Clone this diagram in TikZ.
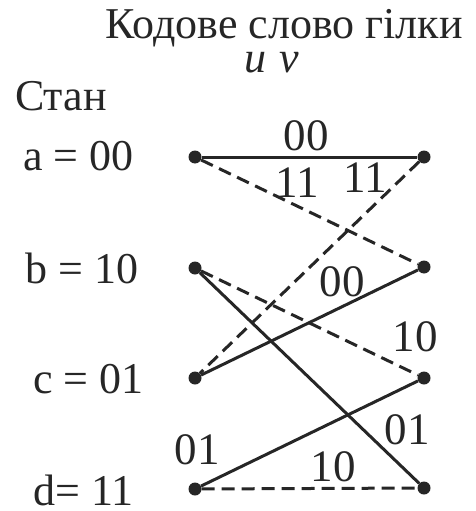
\documentclass[tikz,border=0pt]{standalone}
\usepackage{fontspec}
\setmainfont{Liberation Serif}
\usetikzlibrary{positioning}

\begin{document}
\begin{tikzpicture}[x=1pt,y=-1pt,
    dot/.style={circle,fill=black!85,inner sep=0pt,minimum size=13pt},
    txt/.style={text=black!85,inner sep=0pt,font=\fontsize{44}{46}\selectfont},
    bit/.style={text=black!85,inner sep=0pt,font=\fontsize{45}{47}\selectfont},
    solidedge/.style={black!85,line width=3pt,solid},
    dashedge/.style={black!85,line width=3pt,dash pattern=on 13pt off 7pt}]
    \useasboundingbox (0,0) rectangle (475,511);

    \node[txt,anchor=base] (title) at (284,38) {Кодове слово гілки};
    \node[txt,anchor=base] (uv) at (272,72) {\itshape u\hspace{0.3em}v};
    \node[txt,anchor=base west] (stan) at (15,110) {Стан};

    \node[txt,anchor=base west] (sa) at (23,170) {a = 00};
    \node[txt,anchor=base west] (sb) at (25,283) {b = 10};
    \node[txt,anchor=base west] (sc) at (33,393) {c = 01};
    \node[txt,anchor=base west] (sd) at (33,505) {d= 11};

    \node[dot] (aL) at (195,157) {};
    \node[dot] (bL) at (195,268) {};
    \node[dot] (cL) at (195,378) {};
    \node[dot] (dL) at (195,489) {};
    \node[dot] (aR) at (424,157) {};
    \node[dot] (bR) at (424,267) {};
    \node[dot] (cR) at (424,378) {};
    \node[dot] (dR) at (424,488) {};

    \node[bit] at (306,136) {00};
    \node[bit] at (297,183) {11};
    \node[bit] at (365,178) {11};
    \node[bit] at (342,282) {00};
    \node[bit] at (415,337) {10};
    \node[bit] at (407,430) {01};
    \node[bit] at (197,450) {01};
    \node[bit] at (333,467) {10};

    \path
    (aL) edge [solidedge] (aR)
    (aL) edge [dashedge] (bR)
    (aR) edge [dashedge] (cL)
    (bL) edge [solidedge] (dR)
    (bL) edge [dashedge] (cR)
    (cL) edge [solidedge] (bR)
    (dL) edge [solidedge] (cR)
    (dL) edge [dashedge] (dR);
  \end{tikzpicture}
\end{document}
